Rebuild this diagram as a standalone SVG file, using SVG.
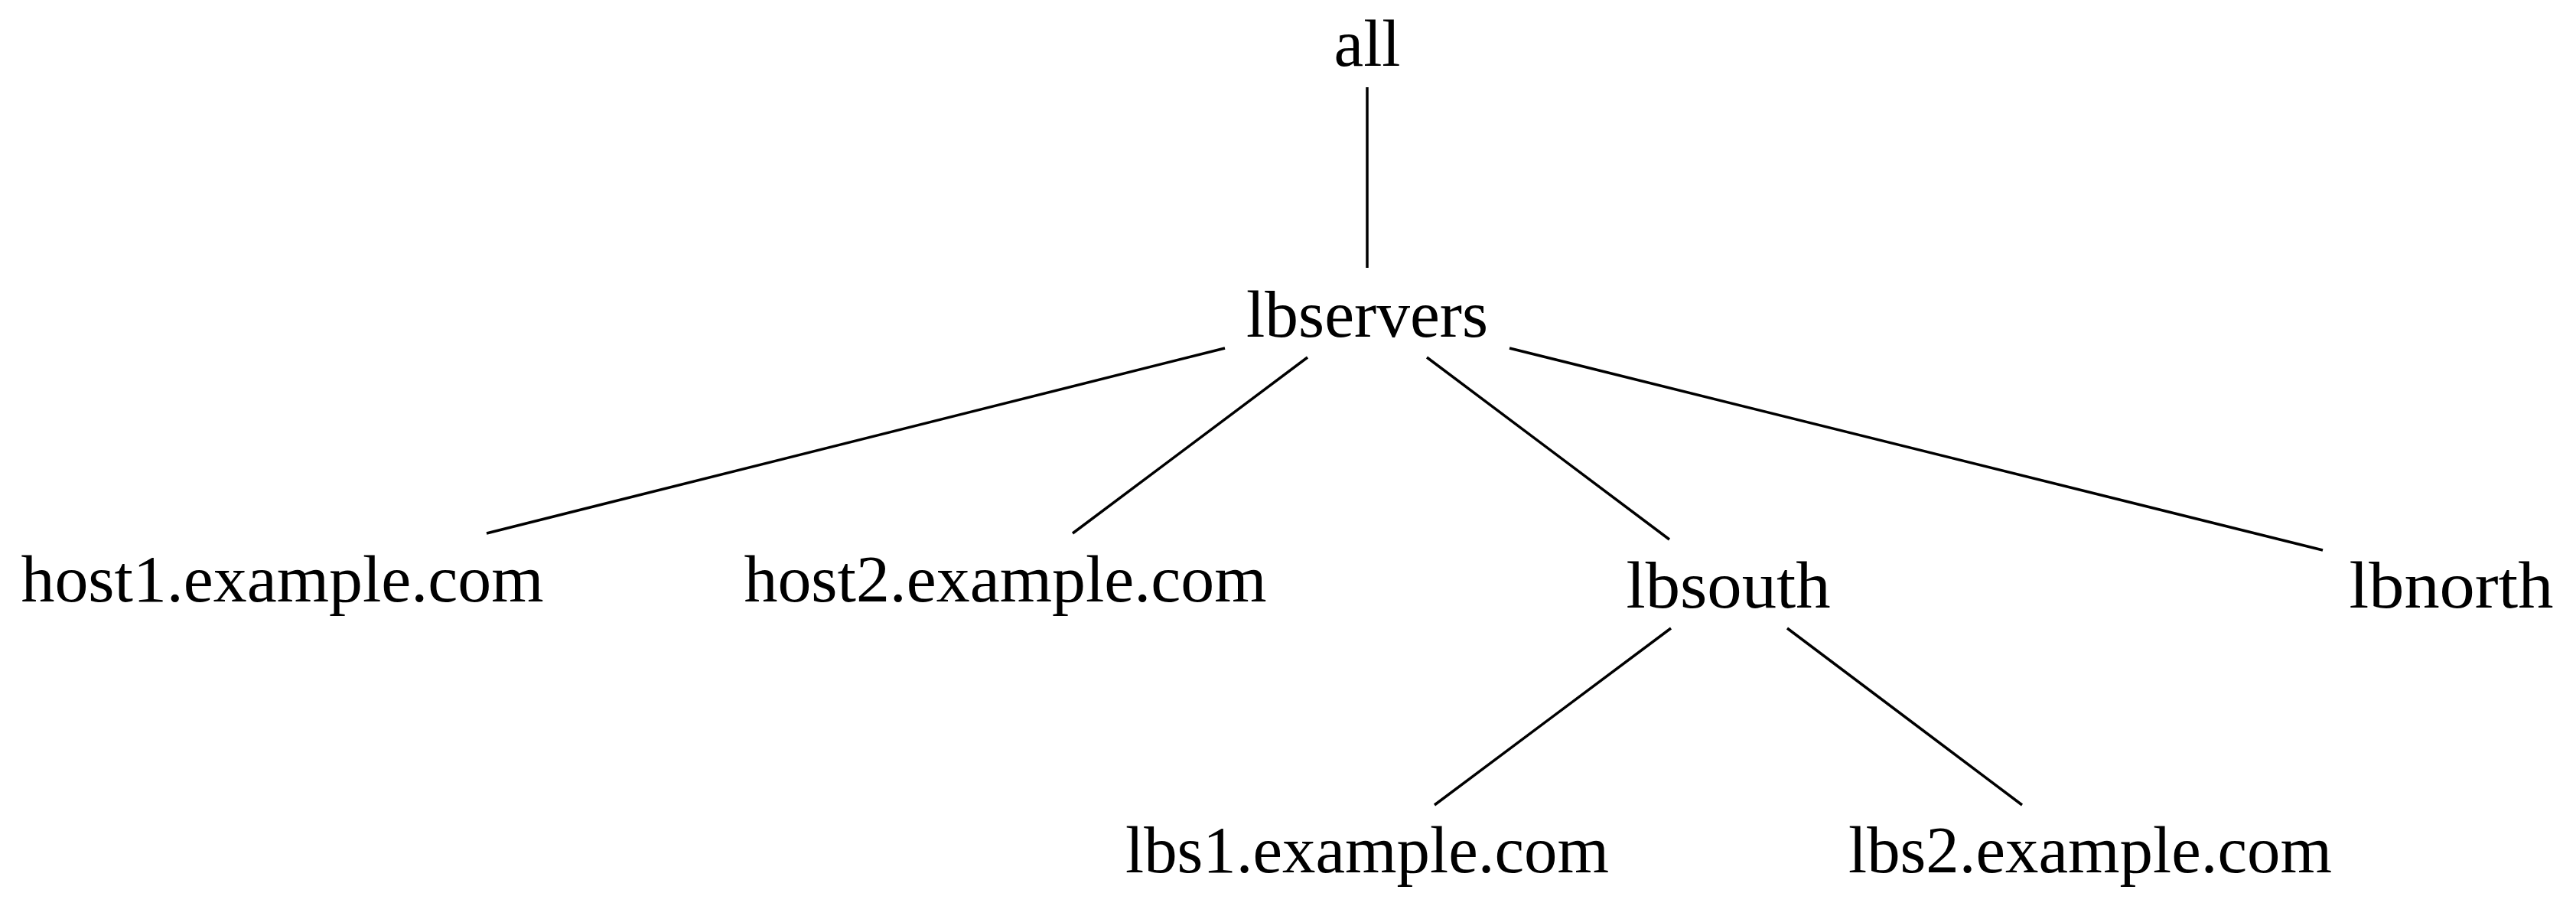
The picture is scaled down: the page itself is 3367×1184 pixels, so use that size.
<svg xmlns="http://www.w3.org/2000/svg" width="3367" height="1184" viewBox="0 0 3367 1184">
<style>
text{font-family:"Liberation Serif","DejaVu Serif",serif;font-size:86px;fill:#000;text-anchor:middle}
.e line{stroke:#000;stroke-width:3.5}
</style>
<rect width="3367" height="1184" fill="#fff"/>
<g id="connectors" class="e">
<line x1="1787" y1="114" x2="1787" y2="350"/>
<line x1="1601" y1="455" x2="636" y2="697"/>
<line x1="1709" y1="467" x2="1402" y2="697"/>
<line x1="1865" y1="467" x2="2182" y2="705"/>
<line x1="1973" y1="455" x2="3036" y2="719"/>
<line x1="2184" y1="821" x2="1875" y2="1052"/>
<line x1="2336" y1="821" x2="2643" y2="1052"/>
</g>
<g id="all"><text x="1787" y="86" textLength="87" lengthAdjust="spacingAndGlyphs">all</text></g>
<g id="lbservers"><text x="1787" y="440" textLength="316" lengthAdjust="spacingAndGlyphs">lbservers</text></g>
<g id="host1"><text x="369" y="786" textLength="683" lengthAdjust="spacingAndGlyphs">host1.example.com</text></g>
<g id="host2"><text x="1314" y="786" textLength="683" lengthAdjust="spacingAndGlyphs">host2.example.com</text></g>
<g id="lbsouth"><text x="2259" y="794" textLength="267" lengthAdjust="spacingAndGlyphs">lbsouth</text></g>
<g id="lbnorth"><text x="3204" y="794" textLength="267" lengthAdjust="spacingAndGlyphs">lbnorth</text></g>
<g id="lbs1"><text x="1787" y="1140" textLength="632" lengthAdjust="spacingAndGlyphs">lbs1.example.com</text></g>
<g id="lbs2"><text x="2732" y="1140" textLength="632" lengthAdjust="spacingAndGlyphs">lbs2.example.com</text></g>
</svg>
